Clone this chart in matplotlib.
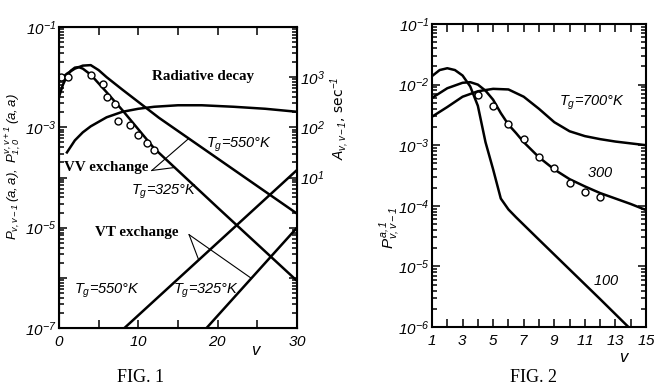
import matplotlib
matplotlib.use("Agg")
import numpy as np
import matplotlib.pyplot as plt
from matplotlib.ticker import FixedLocator, FuncFormatter, LogLocator, NullFormatter

# ---- FIG. 1 data (left axis: probabilities, right axis: A in sec^-1) ----
v_vv550 = [0, 1, 2, 3, 4, 5, 6, 8, 12.6, 30]
logp_vv550 = [-2.06, -1.93, -1.83, -1.77, -1.76, -1.86, -2.0, -2.25, -2.81, -4.72]

v_vv325 = [0, 0.5, 1, 1.5, 2, 2.5, 3, 4, 6, 8, 12, 20, 30]
logp_vv325 = [-2.39, -2.15, -1.98, -1.87, -1.81, -1.80, -1.83, -1.95, -2.3, -2.66, -3.42, -4.6, -6.06]

v_pts1 = [0.3, 1.1, 4, 5.5, 6, 7, 7.4, 9, 10, 11.1, 12]
logp_pts1 = [-2.0, -2.0, -1.96, -2.14, -2.39, -2.53, -2.87, -2.95, -3.15, -3.31, -3.45]

v_rad = [1, 2, 3, 4, 6, 8, 10, 12, 15, 18, 22, 26, 30]
loga_rad = [1.5, 1.74, 1.9, 2.02, 2.2, 2.31, 2.37, 2.41, 2.44, 2.44, 2.41, 2.37, 2.31]

v_vt550 = [8.25, 30]
loga_vt550 = [-2.0, 1.15]
v_vt325 = [18.6, 30]
loga_vt325 = [-2.0, 0.0]

# ---- FIG. 2 data ----
v100 = [1, 1.5, 2, 2.5, 3, 3.5, 4, 4.5, 5, 5.5, 6, 6.5, 8, 10, 12, 13.85]
logp100 = [-1.86, -1.76, -1.73, -1.76, -1.85, -2.03, -2.35, -2.95, -3.4, -3.88, -4.06, -4.19, -4.56, -5.05, -5.54, -6.0]

v300 = [1, 2, 3, 3.5, 4, 4.5, 5, 5.5, 6, 6.5, 7, 8, 9, 10, 11, 12, 13, 14, 15]
logp300 = [-2.22, -2.06, -1.97, -1.96, -2.0, -2.1, -2.25, -2.47, -2.66, -2.8, -2.95, -3.2, -3.4, -3.56, -3.68, -3.79, -3.88, -3.97, -4.07]

v700 = [1, 2, 3, 4, 5, 6, 7, 8, 9, 10, 11, 12, 13, 14, 15]
logp700 = [-2.53, -2.37, -2.2, -2.11, -2.07, -2.08, -2.2, -2.4, -2.62, -2.77, -2.85, -2.9, -2.94, -2.97, -3.0]

v_pts2 = [4, 5, 6, 7, 8, 9, 10, 11, 12]
logp_pts2 = [-2.17, -2.35, -2.65, -2.90, -3.19, -3.38, -3.63, -3.77, -3.86]

plt.rcParams['mathtext.fontset'] = 'custom'
plt.rcParams['mathtext.it'] = 'Liberation Sans:italic'
plt.rcParams['mathtext.rm'] = 'Liberation Sans:italic'
plt.rcParams['mathtext.default'] = 'it'

W, H = 654, 389
fig = plt.figure(figsize=(W / 100, H / 100), dpi=100)

def box(l, t, r, b):
    return [l / W, 1 - b / H, (r - l) / W, (b - t) / H]

def p(a):
    return 10 ** np.asarray(a, dtype=float)

lab_font = dict(family='Liberation Sans', style='italic', size=10.5)
bold_font = dict(family='Liberation Serif', weight='bold', size=10.8)
lw = 1.8
tsize = 11


def decade_fmt(show):
    def f(y, _):
        e = int(round(np.log10(y)))
        return rf'$10^{{{e}}}$' if e in show else ''
    return FuncFormatter(f)


def style_log(ax, lo, hi, show):
    ax.set_yscale('log')
    ax.set_ylim(10.0 ** lo, 10.0 ** hi)
    ax.yaxis.set_major_locator(FixedLocator(10.0 ** np.arange(lo, hi + 1)))
    ax.yaxis.set_minor_locator(LogLocator(base=10, subs=(2, 3, 4, 5, 6, 7, 8, 9)))
    ax.yaxis.set_minor_formatter(NullFormatter())
    ax.yaxis.set_major_formatter(decade_fmt(show))


# ================= FIG. 1 =================
ax1 = fig.add_axes(box(59, 27, 297, 328))
style_log(ax1, -7, -1, (-1, -3, -5, -7))
ax1.set_xlim(0, 30)
ax1.xaxis.set_major_locator(FixedLocator([0, 5, 10, 15, 20, 25, 30]))
ax1.xaxis.set_major_formatter(FuncFormatter(lambda x, _: f'${int(x)}$' if int(x) % 10 == 0 else ''))
ax1.tick_params(which='both', direction='in', top=True, width=1.1)
ax1.tick_params(which='major', length=6, labelsize=tsize, pad=4)
ax1.tick_params(axis='y', which='major', pad=2)
ax1.tick_params(which='minor', length=3.5)
ax1.tick_params(axis='y', which='minor', right=False)
for s in ax1.spines.values():
    s.set_linewidth(1.5)

ax1.plot(v_vv550, p(logp_vv550), color='black', lw=lw)
ax1.plot(v_vv325, p(logp_vv325), color='black', lw=lw)
ax1.plot(v_pts1, p(logp_pts1), 'o', ms=5, mfc='white', mec='black', mew=1.0)

ax1r = ax1.twinx()
style_log(ax1r, -2, 4, (1, 2, 3))
ax1r.tick_params(which='both', direction='in', width=1.1)
ax1r.tick_params(which='major', length=6, labelsize=tsize, pad=2)
ax1r.tick_params(which='minor', length=3.5)
ax1r.plot(v_rad, p(loga_rad), color='black', lw=lw)
ax1r.plot(v_vt550, p(loga_vt550), color='black', lw=lw)
ax1r.plot(v_vt325, p(loga_vt325), color='black', lw=lw)

# annotations
ax1.text(18.1, 10 ** -1.98, 'Radiative decay', ha='center', va='center', **bold_font)
ax1.text(5.9, 10 ** -3.81, 'VV exchange', ha='center', va='center', **bold_font)
ax1.plot([11.7, 14.6], [10 ** -3.86, 10 ** -3.80], color='black', lw=0.8)
ax1.plot([11.7, 16.3], [10 ** -3.86, 10 ** -3.23], color='black', lw=0.8)
ax1.text(9.75, 10 ** -5.10, 'VT exchange', ha='center', va='center', **bold_font)
ax1r.plot([16.4, 17.6], [10 ** -0.14, 10 ** -0.64], color='black', lw=0.8)
ax1r.plot([16.4, 24.25], [10 ** -0.14, 10 ** -1.01], color='black', lw=0.8)
ax1.text(22.75, 10 ** -3.35, r'$T_g$=550°K', ha='center', va='center', **lab_font)
ax1.text(13.25, 10 ** -4.29, r'$T_g$=325°K', ha='center', va='center', **lab_font)
ax1.text(6.0, 10 ** -6.26, r'$T_g$=550°K', ha='center', va='center', **lab_font)
ax1.text(18.5, 10 ** -6.26, r'$T_g$=325°K', ha='center', va='center', **lab_font)

fig.text(13 / W, 1 - 167 / H, r'$P_{v,v-1}\,(a,a),\ P^{v,v+1}_{1,0}\,(a,a)$',
         rotation=90, ha='center', va='center', fontsize=9.5)
fig.text(340 / W, 1 - 118 / H, r'$A_{v,v-1}$, sec$^{-1}$',
         rotation=90, ha='center', va='center', fontsize=10)
fig.text(257 / W, 1 - 350 / H, r'$v$', ha='center', va='center', fontsize=12)
fig.text(141 / W, 1 - 378 / H, 'FIG. 1', ha='center', va='center',
         family='Liberation Serif', size=13)

# ================= FIG. 2 =================
ax2 = fig.add_axes(box(432, 24, 646, 327))
style_log(ax2, -6, -1, (-1, -2, -3, -4, -5, -6))
ax2.set_xlim(1, 15)
ax2.xaxis.set_major_locator(FixedLocator(range(1, 16)))
ax2.xaxis.set_major_formatter(FuncFormatter(lambda x, _: f'${int(x)}$' if int(x) % 2 == 1 else ''))
ax2.tick_params(which='both', direction='in', top=True, right=True, width=1.1)
ax2.tick_params(which='major', length=6, labelsize=tsize, pad=4)
ax2.tick_params(axis='y', which='major', pad=2)
ax2.tick_params(which='minor', length=3.5)
for s in ax2.spines.values():
    s.set_linewidth(1.5)

ax2.plot(v100, p(logp100), color='black', lw=lw)
ax2.plot(v300, p(logp300), color='black', lw=lw)
ax2.plot(v700, p(logp700), color='black', lw=lw)
ax2.plot(v_pts2, p(logp_pts2), 'o', ms=5, mfc='white', mec='black', mew=1.0)

ax2.text(11.5, 10 ** -2.30, r'$T_g$=700°K', ha='center', va='center', **lab_font)
ax2.text(12.0, 10 ** -3.46, '$300$', ha='center', va='center', **lab_font)
ax2.text(12.4, 10 ** -5.24, '$100$', ha='center', va='center', **lab_font)

fig.text(390 / W, 1 - 228 / H, r'$P^{a,1}_{v,v-1}$', rotation=90,
         ha='center', va='center', fontsize=11)
fig.text(625 / W, 1 - 357 / H, r'$v$', ha='center', va='center', fontsize=12)
fig.text(534 / W, 1 - 378 / H, 'FIG. 2', ha='center', va='center',
         family='Liberation Serif', size=13)

fig.savefig('out.png', dpi=100)
